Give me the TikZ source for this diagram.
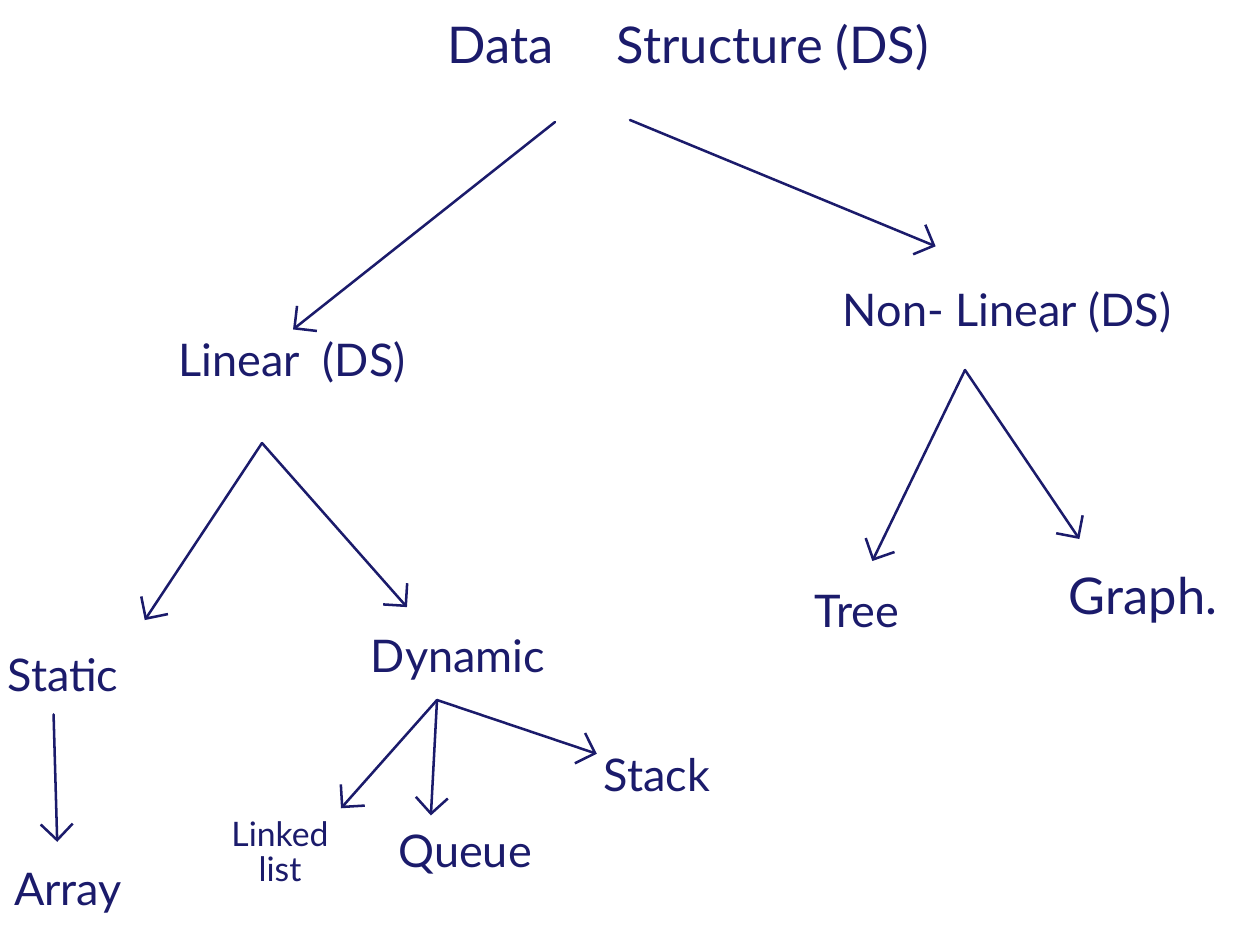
\documentclass[tikz,border=0pt]{standalone}
\usepackage{fontspec}
\setmainfont{Lato}
\usetikzlibrary{arrows.meta,calc}
\definecolor{ink}{HTML}{1B1B6B}
\begin{document}
\begin{tikzpicture}[
  x=0.25mm, y=-0.25mm,
  inkarrow/.style={draw=ink, line width=1.8pt, line cap=round,
    -{Straight Barb[length=4mm,width=8mm,line width=1.8pt]}},
  dsword/.style={text=ink, font=\fontsize{32}{36}\selectfont, inner sep=2pt},
  dsbig/.style={dsword, font=\fontsize{36}{40}\selectfont},
  dssmall/.style={text=ink, font=\fontsize{24}{25}\selectfont, inner sep=2pt, align=center}
]
\useasboundingbox (0,0) rectangle (1240,949);
% headings
\node [dsbig] (ds) at (688,48) {Data\quad\ Structure (DS)};
\node [dsword] (lin) at (292,362) {Linear\ \ (DS)};
\node [dsword] (nonlin) at (1007,312) {Non- Linear (DS)};
% second level
\node [dsword] (static) at (63,675) {Static};
\node [dsword] (dyn) at (458,660) {Dynamic};
\node [dsword] (tree) at (857,612) {Tree};
\node [dsbig] (graph) at (1143,600) {Graph.};
% leaves
\node [dsword] (array) at (68,893) {Array};
\node [dssmall] (llist) at (280,852) {Linked\\list};
\node [dsword] (queue) at (465,855) {Queue};
\node [dsword] (stack) at (657,775) {Stack};
% forks
\coordinate (dsL) at (555,122);
\coordinate (dsR) at (630,120);
\coordinate (linFork) at (262,443);
\coordinate (nonFork) at (965,370);
\coordinate (dynFork) at (437,700);
% arrows
\draw [inkarrow, shorten >=10pt] (dsL) -- ($(lin.north)+(-10,0)$);
\draw [inkarrow, shorten >=78pt] (dsR) -- ($(nonlin.north)+(30,0)$);
\draw [inkarrow, shorten >=30pt] (linFork) -- (static.north east);
\draw [inkarrow, shorten >=28pt] (linFork) -- ($(dyn.north)+(-25,0)$);
\draw [inkarrow, shorten >=25pt] (nonFork) -- (tree.north);
\draw [inkarrow, shorten >=30pt] (nonFork) -- ($(graph.north)+(-40,0)$);
\draw [inkarrow, shorten <=14pt, shorten >=20pt] ($(static.south)+(-10,0)$) -- ($(array.north)+(-10,0)$);
\draw [inkarrow, shorten >=10pt] (dynFork) -- (llist.north east);
\draw [inkarrow, shorten >=12pt] (dynFork) -- ($(queue.north)+(-35,0)$);
\draw [inkarrow, shorten >=3pt] (dynFork) -- (stack.north west);
\end{tikzpicture}
\end{document}
